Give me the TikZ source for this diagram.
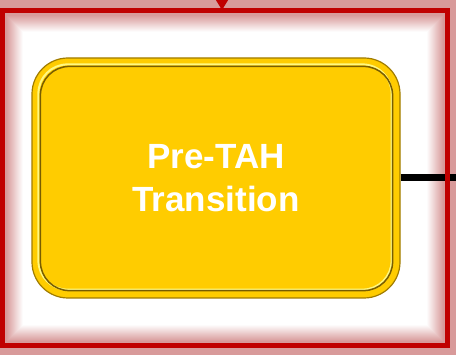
\documentclass[tikz,border=0pt]{standalone}
\usepackage{fontspec}
\setmainfont{Liberation Sans}
\usetikzlibrary{arrows.meta, positioning}

\definecolor{framered}{HTML}{C00000}
\definecolor{glowpink}{HTML}{D89A9A}
\definecolor{boxyellow}{HTML}{FFCC00}
\definecolor{boxedge}{HTML}{A07C00}

\tikzset{
	yellowbox/.style={draw=boxedge, line width=1.2pt, fill=boxyellow,
		rounded corners=36pt, minimum width=368pt, minimum height=240pt,
		align=center, text=white, font=\fontsize{35}{43}\selectfont\bfseries},
	linkline/.style={line width=7pt, black},
}

\begin{document}
\begin{tikzpicture}[x=1pt,y=-1pt]
	\useasboundingbox (0,0) rectangle (456,355);
	% background and glow inside the frame
	\fill[glowpink] (0,0) rectangle (456,355);
	\foreach \i in {0,...,16}
		\fill[glowpink!\the\numexpr100-6*\i\relax!white] (6+\i,15+\i) rectangle (444-\i,342-\i);
	\fill[white] (23,32) rectangle (427,325);
	% the transition box
	\node[yellowbox] (trans) at (216,178) {Pre-TAH\\Transition};
	\draw[yellow!50!white, line width=2pt, rounded corners=29pt]
		([shift={(7,7)}]trans.north west) rectangle ([shift={(-9,-9)}]trans.south east);
	\draw[boxedge!75!black, line width=1.5pt, rounded corners=29pt]
		([shift={(9,9)}]trans.north west) rectangle ([shift={(-8,-8)}]trans.south east);
	% connector leaving to the right
	\coordinate (exit) at (456,178);
	\draw[linkline] (trans.east) -- (exit);
	% frame
	\draw[framered, line width=5pt] (2,11) rectangle (447,346);
	% incoming arrow at the top
	\coordinate (entry) at (222,-2);
	\coordinate (frametop) at (222,10);
	\draw[framered, line width=1pt, -{Triangle[width=12pt,length=10pt]}] (entry) -- (frametop);
\end{tikzpicture}
\end{document}
